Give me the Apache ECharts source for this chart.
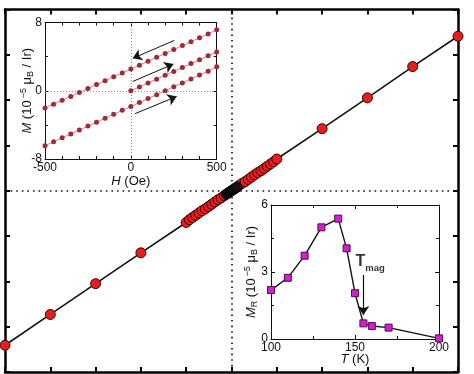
<!DOCTYPE html>
<html>
<head>
<meta charset="utf-8">
<script src="https://cdn.jsdelivr.net/npm/echarts@6/dist/echarts.min.js"></script>
<style>html,body{margin:0;padding:0;background:#fff;}#c{width:474px;height:374px;}</style>
</head>
<body>
<div id="c"></div>
<script>
// ---- main panel (hidden tick labels) ----
const mainOuterH = [-5, -4, -3, -2, -1, 1, 2, 3, 4, 5];
const mainOuterM = [-3.41, -2.73, -2.05, -1.37, -0.70, 0.70, 1.37, 2.05, 2.74, 3.41];
const clusterH = [-0.93, -0.86, -0.79, -0.72, -0.65, -0.58, -0.51, -0.44, -0.37, -0.30, -0.23, -0.16,
                  0.16, 0.23, 0.30, 0.37, 0.44, 0.51, 0.58, 0.65, 0.72, 0.79, 0.86, 0.93];
const clusterM = [-0.64, -0.59, -0.54, -0.49, -0.44, -0.40, -0.35, -0.30, -0.25, -0.20, -0.16, -0.11,
                  0.11, 0.16, 0.20, 0.25, 0.30, 0.35, 0.40, 0.44, 0.49, 0.54, 0.59, 0.64];
const centerH = [-0.12, -0.09, -0.06, -0.03, 0, 0.03, 0.06, 0.09, 0.12];
const centerM = [-0.08, -0.06, -0.04, -0.02, 0, 0.02, 0.04, 0.06, 0.08];

// ---- inset 1: hysteresis loop ----
const loopH = [-500, -450, -400, -350, -300, -250, -200, -150, -100, -50, 0, 50, 100, 150, 200, 250, 300, 350, 400, 450, 500];
const downM = [-2.03, -1.57, -1.11, -0.66, -0.20, 0.26, 0.72, 1.17, 1.63, 2.09, 2.54, 3.00, 3.46, 3.92, 4.37, 4.83, 5.29, 5.75, 6.20, 6.66, 7.14];
const upM = [-6.44, -5.98, -5.52, -5.06, -4.60, -4.14, -3.68, -3.22, -2.76, -2.30, -1.84, -1.38, -0.92, -0.46, 0.00, 0.46, 0.92, 1.38, 1.84, 2.30, 2.80];
const virginH = [0, 50, 100, 150, 200, 250, 300, 350, 400, 450, 500];
const virginM = [0, 0.45, 0.91, 1.36, 1.82, 2.27, 2.73, 3.18, 3.64, 4.09, 4.55];
const inset1XTicks = ['-500', '0', '500'];
const inset1YTicks = ['-8', '0', '8'];

// ---- inset 2: remanent magnetisation vs T ----
const tempK = [100, 110, 120, 130, 140, 145, 150, 155, 160, 170, 200];
const remM = [2.19, 2.74, 3.73, 5.00, 5.39, 4.06, 2.05, 0.70, 0.58, 0.51, 0.03];
const inset2XTicks = ['100', '150', '200'];
const inset2YTicks = ['0', '3', '6'];
const tmagLabelAt = [159, 3.45];

const zip = (a, b) => a.map((v, i) => [v, b[i]]);
const mainAll = zip(mainOuterH, mainOuterM).concat(zip(clusterH, clusterM), zip(centerH, centerM))
  .sort((p, q) => p[0] - q[0]);
const redPts = zip(mainOuterH, mainOuterM).concat(zip(clusterH, clusterM)).sort((p, q) => p[0] - q[0]);

const FONT = 'Liberation Sans';
const black = '#000';

function mainAxis(pos, min, max) {
  return {
    type: 'value', gridIndex: 0, position: pos, min: min, max: max, interval: 1,
    axisLine: { show: true, onZero: false, lineStyle: { color: black, width: 2.5 } },
    axisTick: { show: true, inside: true, length: 5, lineStyle: { color: black, width: 2 } },
    axisLabel: { show: false }, splitLine: { show: false }
  };
}
function insetAxis(grid, pos, min, max, interval, minorSplit, showLabel, ticks) {
  return {
    type: 'value', gridIndex: grid, position: pos, min: min, max: max, interval: interval,
    nameMoveOverlap: false,
    axisLine: { show: true, onZero: false, lineStyle: { color: '#111', width: 1 } },
    axisTick: { show: true, inside: true, length: 4, lineStyle: { color: '#111', width: 1 } },
    minorTick: { show: true, splitNumber: minorSplit, length: 3, lineStyle: { color: '#111', width: 1 } },
    axisLabel: {
      show: showLabel, color: '#111', fontSize: 12, fontFamily: FONT, margin: 3,
      formatter: v => ticks.find(t => Number(t) === v) || ''
    },
    splitLine: { show: false }, minorSplitLine: { show: false }
  };
}
const unitRich = {
  i: { fontStyle: 'italic', fontSize: 13, fontFamily: FONT, color: '#111' },
  sup: { fontSize: 9, fontFamily: FONT, color: '#111', padding: [0, 0, 8, 2] },
  sub: { fontSize: 9, fontFamily: FONT, color: '#111', padding: [6, 0, 0, 0] }
};

const chart = echarts.init(document.getElementById('c'), null, { renderer: 'canvas' });
const x2 = insetAxis(1, 'bottom', -500, 500, 500, 5, true, inset1XTicks);
x2.name = '{i|H} (Oe)'; x2.nameLocation = 'middle'; x2.nameGap = 16;
x2.nameTextStyle = { fontSize: 13, fontFamily: FONT, color: '#111', rich: unitRich };
const y2 = insetAxis(1, 'left', -8, 8, 8, 2, true, inset1YTicks);
y2.name = '{i|M} (10{sup|−5} μ{sub|B} / Ir)'; y2.nameLocation = 'middle'; y2.nameGap = 9; y2.nameRotate = 90;
y2.nameTextStyle = { fontSize: 13, fontFamily: FONT, color: '#111', rich: unitRich };
const x4 = insetAxis(2, 'bottom', 100, 200, 50, 2, true, inset2XTicks);
x4.name = '{i|T} (K)'; x4.nameLocation = 'middle'; x4.nameGap = 14;
x4.nameTextStyle = { fontSize: 13, fontFamily: FONT, color: '#111', rich: unitRich };
const y4 = insetAxis(2, 'left', 0, 6, 3, 2, true, inset2YTicks);
y4.name = '{i|M}{sub|R} (10{sup|−5} μ{sub|B} / Ir)'; y4.nameLocation = 'middle'; y4.nameGap = 11; y4.nameRotate = 90;
y4.nameTextStyle = { fontSize: 13, fontFamily: FONT, color: '#111', rich: unitRich };

const dotRed = '#a3283a';
const insetLine = { color: '#c48a8a', width: 1 };
const arrowStyle = { color: '#111', width: 1, type: 'solid' };

chart.setOption({
  animation: false,
  backgroundColor: '#fff',
  textStyle: { fontFamily: FONT },
  grid: [
    { left: 5, top: 9.5, width: 453, height: 362.5, show: false },
    { left: 45, top: 22.5, width: 171.7, height: 136.5, show: true, backgroundColor: '#fff', borderWidth: 0 },
    { left: 271, top: 205, width: 168, height: 134, show: true, backgroundColor: '#fff', borderWidth: 0 }
  ],
  xAxis: [
    mainAxis('bottom', -5, 5),
    mainAxis('top', -5, 5),
    x2,
    insetAxis(1, 'top', -500, 500, 500, 5, false, inset1XTicks),
    x4,
    insetAxis(2, 'top', 100, 200, 50, 2, false, inset2XTicks)
  ],
  yAxis: [
    mainAxis('left', -4, 4),
    mainAxis('right', -4, 4),
    y2,
    insetAxis(1, 'right', -8, 8, 8, 2, false, inset1YTicks),
    y4,
    insetAxis(2, 'right', 0, 6, 3, 2, false, inset2YTicks)
  ],
  series: [
    {
      type: 'line', xAxisIndex: 0, yAxisIndex: 0, data: mainAll, showSymbol: false, symbol: 'none',
      lineStyle: { color: '#111', width: 1.6 }, z: 2,
      markLine: {
        silent: true, symbol: 'none', label: { show: false },
        lineStyle: { color: '#111', width: 1.6, type: [1.6, 4] },
        data: [{ xAxis: 0 }, { yAxis: 0 }]
      }
    },
    {
      type: 'scatter', xAxisIndex: 0, yAxisIndex: 0, data: redPts, symbol: 'circle', symbolSize: 10,
      itemStyle: { color: '#ec1c1c', borderColor: '#2a0a0a', borderWidth: 1, opacity: 1 }, z: 3
    },
    {
      type: 'scatter', xAxisIndex: 0, yAxisIndex: 0, data: zip(centerH, centerM), symbol: 'circle', symbolSize: 10,
      itemStyle: { color: '#141414', borderColor: '#000', borderWidth: 1, opacity: 1 }, z: 4
    },
    {
      type: 'line', xAxisIndex: 2, yAxisIndex: 2, data: zip(loopH, downM), symbol: 'circle', symbolSize: 5,
      showAllSymbol: true, lineStyle: insetLine, itemStyle: { color: dotRed, borderWidth: 0 }, z: 5,
      markLine: {
        silent: true, label: { show: false }, symbol: 'none',
        data: [
          { xAxis: 0, lineStyle: { color: '#888', width: 1, type: [1, 2] } },
          { yAxis: 0, lineStyle: { color: '#888', width: 1, type: [1, 2] } },
          [{ coord: [253, 5.9], symbol: 'none', lineStyle: arrowStyle }, { coord: [11, 3.8], symbol: 'arrow', symbolSize: 9 }],
          [{ coord: [11, 1.09], symbol: 'none', lineStyle: arrowStyle }, { coord: [248, 3.13], symbol: 'arrow', symbolSize: 9 }],
          [{ coord: [24, -2.69], symbol: 'none', lineStyle: arrowStyle }, { coord: [267, -0.67], symbol: 'arrow', symbolSize: 9 }]
        ]
      }
    },
    {
      type: 'line', xAxisIndex: 2, yAxisIndex: 2, data: zip(virginH, virginM), symbol: 'circle', symbolSize: 5,
      showAllSymbol: true, lineStyle: insetLine, itemStyle: { color: dotRed, borderWidth: 0 }, z: 5
    },
    {
      type: 'line', xAxisIndex: 2, yAxisIndex: 2, data: zip(loopH, upM), symbol: 'circle', symbolSize: 5,
      showAllSymbol: true, lineStyle: insetLine, itemStyle: { color: dotRed, borderWidth: 0 }, z: 5
    },
    {
      type: 'line', xAxisIndex: 4, yAxisIndex: 4, data: zip(tempK, remM), symbol: 'rect', symbolSize: 7,
      showAllSymbol: true, lineStyle: { color: '#111', width: 1.4 },
      itemStyle: { color: '#d21fd2', borderColor: '#4a1040', borderWidth: 1 }, z: 5,
      markLine: {
        silent: true, label: { show: false },
        data: [[{ coord: [155, 2.87], symbol: 'none', lineStyle: { color: '#111', width: 1.2, type: 'solid' } },
                { coord: [155, 1.07], symbol: 'arrow', symbolSize: 9 }]]
      }
    },
    {
      type: 'scatter', xAxisIndex: 4, yAxisIndex: 4, data: [tmagLabelAt], symbol: 'circle', symbolSize: 1,
      itemStyle: { color: 'rgba(0,0,0,0)' }, silent: true, z: 6,
      label: {
        show: true, position: 'inside', formatter: '{big|T}{low|mag}',
        rich: {
          big: { fontSize: 16, fontWeight: 'bold', fontFamily: FONT, color: '#000', lineHeight: 17 },
          low: { fontSize: 9.5, fontWeight: 'bold', fontFamily: FONT, color: '#000', lineHeight: 10, padding: [12, 0, 0, 0] }
        }
      }
    }
  ]
});
</script>
</body>
</html>
